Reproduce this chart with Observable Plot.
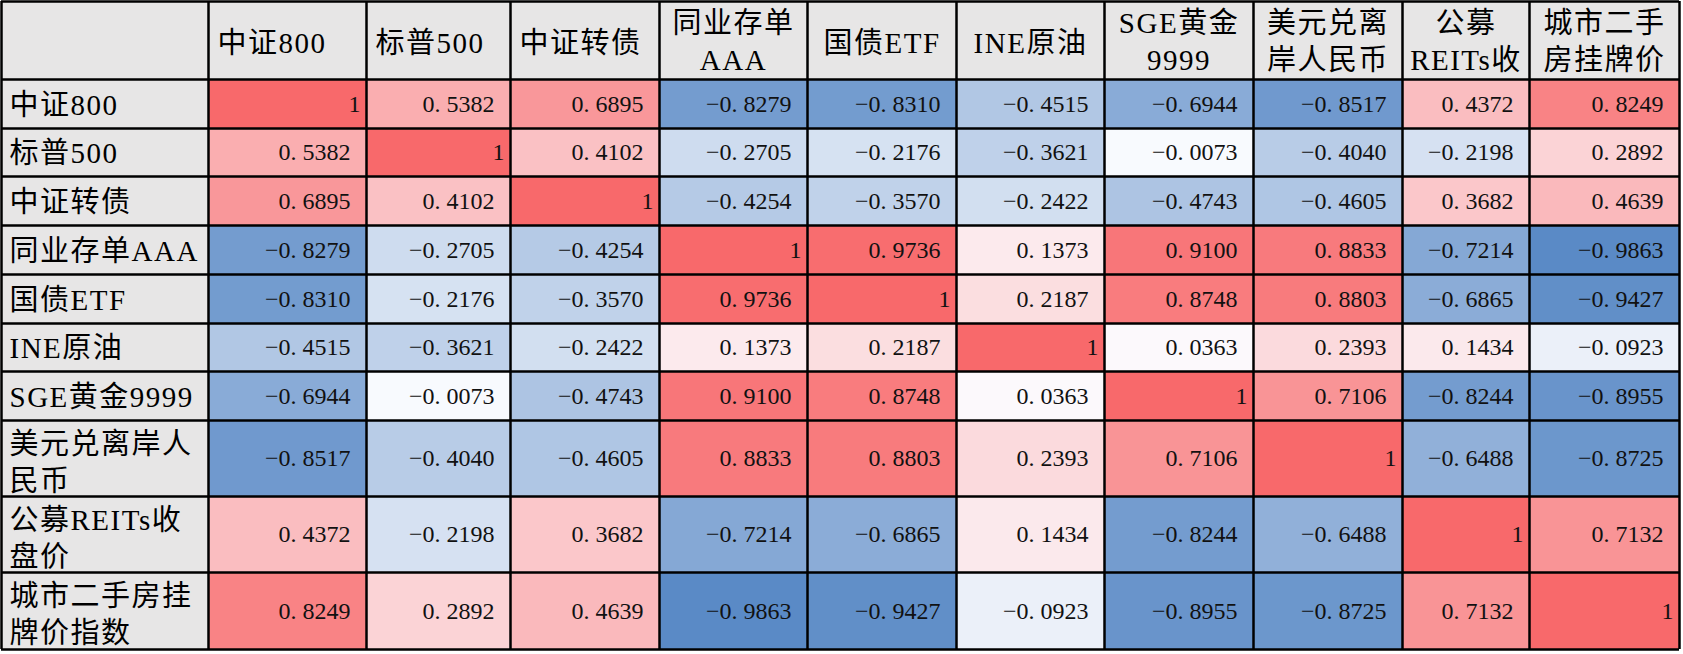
<!DOCTYPE html>
<html><head><meta charset="utf-8">
<script src="https://cdn.jsdelivr.net/npm/d3@7"></script>
<script src="https://cdn.jsdelivr.net/npm/@observablehq/plot@0.6"></script>
<style>
html,body{margin:0;padding:0;background:#fff;}
#chart svg{display:block;background:#fff;}
.lbl text{letter-spacing:1.5px;}
</style></head><body><div id="chart"></div>
<script>
// categories
const series = ["中证800","标普500","中证转债","同业存单AAA","国债ETF","INE原油","SGE黄金9999","美元兑离岸人民币","公募REITs收盘价","城市二手房挂牌价指数"];
// tick labels as wrapped in the table
const colLabels = ["中证800","标普500","中证转债","同业存单\nAAA","国债ETF","INE原油","SGE黄金\n9999","美元兑离\n岸人民币","公募\nREITs收","城市二手\n房挂牌价"];
const rowLabels = ["中证800","标普500","中证转债","同业存单AAA","国债ETF","INE原油","SGE黄金9999","美元兑离岸人\n民币","公募REITs收\n盘价","城市二手房挂\n牌价指数"];
// correlation values, one array per row
const c_zz800 = [1,0.5382,0.6895,-0.8279,-0.8310,-0.4515,-0.6944,-0.8517,0.4372,0.8249];
const c_sp500 = [0.5382,1,0.4102,-0.2705,-0.2176,-0.3621,-0.0073,-0.4040,-0.2198,0.2892];
const c_zzzz  = [0.6895,0.4102,1,-0.4254,-0.3570,-0.2422,-0.4743,-0.4605,0.3682,0.4639];
const c_ncd   = [-0.8279,-0.2705,-0.4254,1,0.9736,0.1373,0.9100,0.8833,-0.7214,-0.9863];
const c_gz    = [-0.8310,-0.2176,-0.3570,0.9736,1,0.2187,0.8748,0.8803,-0.6865,-0.9427];
const c_ine   = [-0.4515,-0.3621,-0.2422,0.1373,0.2187,1,0.0363,0.2393,0.1434,-0.0923];
const c_sge   = [-0.6944,-0.0073,-0.4743,0.9100,0.8748,0.0363,1,0.7106,-0.8244,-0.8955];
const c_usd   = [-0.8517,-0.4040,-0.4605,0.8833,0.8803,0.2393,0.7106,1,-0.6488,-0.8725];
const c_reits = [0.4372,-0.2198,0.3682,-0.7214,-0.6865,0.1434,-0.8244,-0.6488,1,0.7132];
const c_house = [0.8249,0.2892,0.4639,-0.9863,-0.9427,-0.0923,-0.8955,-0.8725,0.7132,1];
const matrix = [c_zz800,c_sp500,c_zzzz,c_ncd,c_gz,c_ine,c_sge,c_usd,c_reits,c_house];

// layout (table geometry, like spreadsheet column widths / row heights)
const colWidths = [207,158,144,149,148,149,148,149,149,127,150];
const rowHeights = [78,49,48,49,49,49,48,49,76,76,77];
const headerAlign = ["start","start","start","middle","middle","middle","middle","middle","middle","middle"];

const colEdges = [0, ...d3.cumsum(colWidths)];
const rowEdges = [0, ...d3.cumsum(rowHeights)];
const W = colEdges[colEdges.length-1], H = rowEdges[rowEdges.length-1];

const cells = [];
matrix.forEach((row, i) => row.forEach((v, j) => cells.push({
  row: series[i], col: series[j], v,
  x1: colEdges[j+1], x2: colEdges[j+2], y1: rowEdges[i+1], y2: rowEdges[i+2]
})));
const allVals = cells.map(d => d.v);
const mid = d3.median(allVals);

const greyCells = [{x1: colEdges[0], x2: colEdges[1], y1: rowEdges[0], y2: rowEdges[1]}];
series.forEach((s, k) => {
  greyCells.push({x1: colEdges[k+1], x2: colEdges[k+2], y1: rowEdges[0], y2: rowEdges[1]});
  greyCells.push({x1: colEdges[0], x2: colEdges[1], y1: rowEdges[k+1], y2: rowEdges[k+2]});
});

const headers = colLabels.map((t, k) => ({
  t, anchor: headerAlign[k],
  x: headerAlign[k] === "start" ? colEdges[k+1] + 9 : (colEdges[k+1] + colEdges[k+2]) / 2,
  y: (rowEdges[0] + rowEdges[1]) / 2 + (t.includes("\n") ? -1 : 1)
}));
const rowsTxt = rowLabels.map((t, k) => ({
  t, x: colEdges[0] + 8,
  y: (rowEdges[k+1] + rowEdges[k+2]) / 2 + (t.includes("\n") ? 2 : -1)
}));

const fmt = v => v === 1 ? "1" : (v < 0 ? "\u2212" : "") + "0. " + Math.abs(v).toFixed(4).slice(2);
const FONT = "'Liberation Serif', 'Noto Sans CJK SC', serif";
const lblOpts = {x: "x", y: "y", text: "t", fontFamily: FONT, fontSize: 29, lineHeight: 1.28, fill: "#000", className: "lbl"};

const chart = Plot.plot({
  width: 1683, height: 654, margin: 0,
  x: {type: "linear", domain: [0, 1683], range: [1, 1684], axis: null},
  y: {type: "linear", domain: [0, 654], range: [1, 655], axis: null},
  color: {type: "linear", domain: [d3.min(allVals), mid, d3.max(allVals)],
          range: ["#5A8AC6", "#FCFCFF", "#F8696B"], interpolate: "rgb"},
  style: {background: "#fff"},
  marks: [
    Plot.rect(greyCells, {x1: "x1", x2: "x2", y1: "y1", y2: "y2", fill: "#E7E6E6"}),
    Plot.rect(cells, {x1: "x1", x2: "x2", y1: "y1", y2: "y2", fill: "v"}),
    Plot.text(cells, {
      x: d => d.x2 - (d.v === 1 ? 6 : 16),
      y: d => (d.y1 + d.y2) / 2,
      text: d => fmt(d.v), textAnchor: "end",
      fontFamily: FONT, fontSize: 24, fill: "#111"
    }),
    Plot.text(headers.filter(d => d.anchor === "start"), {...lblOpts, textAnchor: "start"}),
    Plot.text(headers.filter(d => d.anchor === "middle"), {...lblOpts, textAnchor: "middle"}),
    Plot.text(rowsTxt, {...lblOpts, textAnchor: "start"}),
    Plot.ruleX(colEdges, {y1: 0, y2: H, stroke: "#000", strokeWidth: 2.5}),
    Plot.ruleY(rowEdges, {x1: 0, x2: W, stroke: "#000", strokeWidth: 2.5})
  ]
});
document.getElementById("chart").appendChild(chart);
</script></body></html>
